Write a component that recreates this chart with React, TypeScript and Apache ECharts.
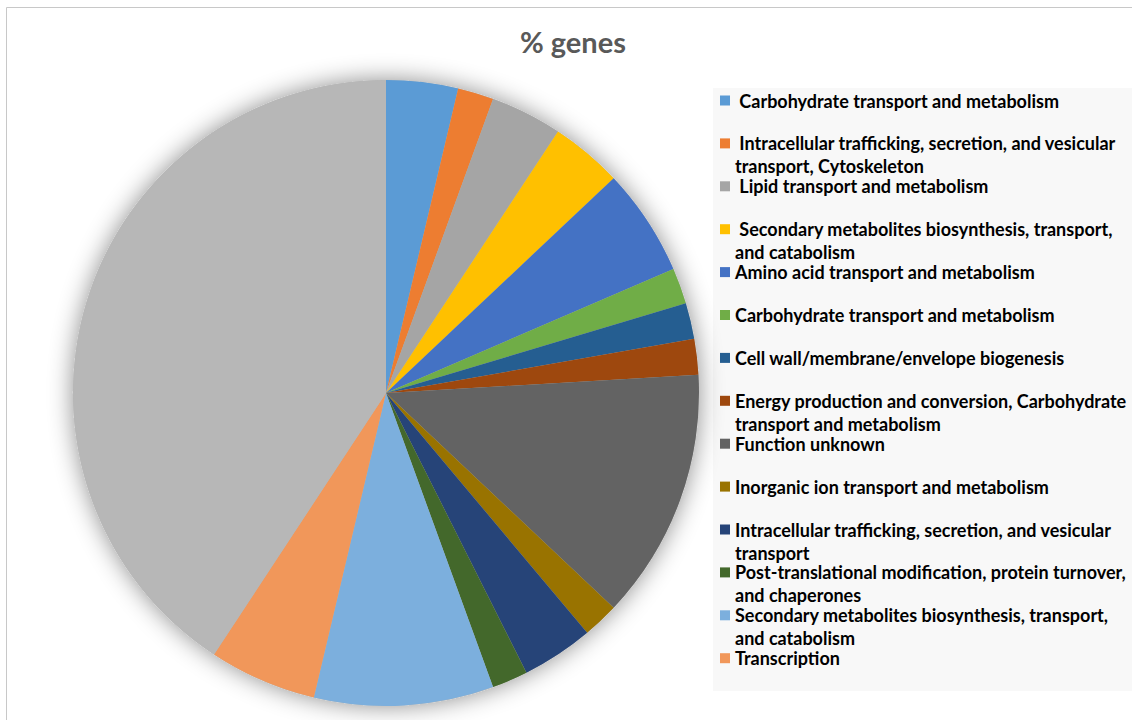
import { useEffect, useRef } from 'react';
import * as echarts from 'echarts';

// Legend entries, split where their labels wrap onto a second line
const categoryLines: string[][] = [
  [' Carbohydrate transport and metabolism'],
  [' Intracellular trafficking, secretion, and vesicular', 'transport, Cytoskeleton'],
  [' Lipid transport and metabolism'],
  [' Secondary metabolites biosynthesis, transport,', 'and catabolism'],
  ['Amino acid transport and metabolism'],
  ['Carbohydrate transport and metabolism'],
  ['Cell wall/membrane/envelope biogenesis'],
  ['Energy production and conversion, Carbohydrate', 'transport and metabolism'],
  ['Function unknown'],
  ['Inorganic ion transport and metabolism'],
  ['Intracellular trafficking, secretion, and vesicular', 'transport'],
  ['Post-translational modification, protein turnover,', 'and chaperones'],
  ['Secondary metabolites biosynthesis, transport,', 'and catabolism'],
  ['Transcription'],
];
const categories = categoryLines.map((l) => l.join(' '));

// Number of genes per category
const geneCounts = [2, 1, 2, 2, 3, 1, 1, 1, 7, 1, 2, 1, 5, 3];

// Remaining genes (large slice without a visible legend entry)
const otherLabel = 'Other';
const otherCount = 22;

const sliceColors = [
  '#5B9BD5', '#ED7D31', '#A5A5A5', '#FFC000', '#4472C4', '#70AD47', '#255E91',
  '#9E480E', '#636363', '#997300', '#264478', '#43682B', '#7CAFDD', '#F1975A',
  '#B7B7B7',
];

const titleText = '% genes';
const FONT = 'Lato, "Open Sans", "Liberation Sans", sans-serif';

export default function App() {
  const ref = useRef<HTMLDivElement>(null);

  useEffect(() => {
    document.body.style.margin = '0';
    const chart = echarts.init(ref.current!, null, { renderer: 'svg' });

    const pieCenter = [386, 393];
    const pieRadius = 313;
    const rowTop = 100.5;
    const rowStep = 42.9;
    const lineH = 23;

    const legends = categoryLines.map((lines, i) => {
      const multi = lines.length > 1;
      const center = rowTop + rowStep * i;
      const shown = lines.map((s) => s.replace(/^ /, '\u00A0'));
      return {
        show: true,
        orient: 'vertical',
        left: 720,
        top: center - (multi ? 1.5 * lineH : 0.5 * lineH),
        padding: 0,
        itemWidth: 10,
        itemHeight: 10,
        itemGap: 0,
        icon: 'rect',
        selectedMode: false,
        data: [categories[i]],
        formatter: () => (multi ? '\n' + shown.join('\n') : shown[0]),
        textStyle: {
          fontFamily: FONT,
          fontSize: 18,
          fontWeight: 'bold',
          color: '#000000',
          lineHeight: lineH,
        },
      };
    });

    const pieData = categories.map((name, i) => ({
      name,
      value: geneCounts[i],
      itemStyle: { color: sliceColors[i] },
    }));
    pieData.push({
      name: otherLabel,
      value: otherCount,
      itemStyle: { color: sliceColors[14] },
    });

    chart.setOption({
      animation: false,
      backgroundColor: '#ffffff',
      title: {
        text: titleText,
        left: 520,
        top: 27,
        padding: 0,
        textStyle: {
          fontFamily: FONT,
          fontSize: 29,
          fontWeight: 'bold',
          color: '#595959',
        },
      },
      legend: legends,
      graphic: [
        {
          type: 'rect',
          silent: true,
          z: -10,
          shape: { x: 6.5, y: 7.5, width: 1200, height: 800 },
          style: { fill: 'none', stroke: '#c8c8c8', lineWidth: 1 },
        },
        {
          type: 'rect',
          silent: true,
          z: -5,
          shape: { x: 713, y: 88, width: 450, height: 603 },
          style: { fill: '#f8f8f8' },
        },
      ],
      series: [
        {
          // soft drop shadow behind the pie
          type: 'pie',
          silent: true,
          z: 1,
          center: pieCenter,
          radius: pieRadius,
          label: { show: false },
          labelLine: { show: false },
          emphasis: { disabled: true },
          data: [{ name: '', value: 1 }],
          itemStyle: {
            color: '#b7b7b7',
            shadowBlur: 24,
            shadowColor: 'rgba(0,0,0,0.45)',
          },
        },
        {
          type: 'pie',
          z: 2,
          center: pieCenter,
          radius: pieRadius,
          startAngle: 90,
          clockwise: true,
          avoidLabelOverlap: false,
          label: { show: false },
          labelLine: { show: false },
          emphasis: { disabled: true },
          itemStyle: { borderWidth: 0 },
          data: pieData,
        },
      ],
    });

    return () => chart.dispose();
  }, []);

  return <div ref={ref} style={{ width: 1132, height: 720, overflow: 'hidden' }} />;
}
